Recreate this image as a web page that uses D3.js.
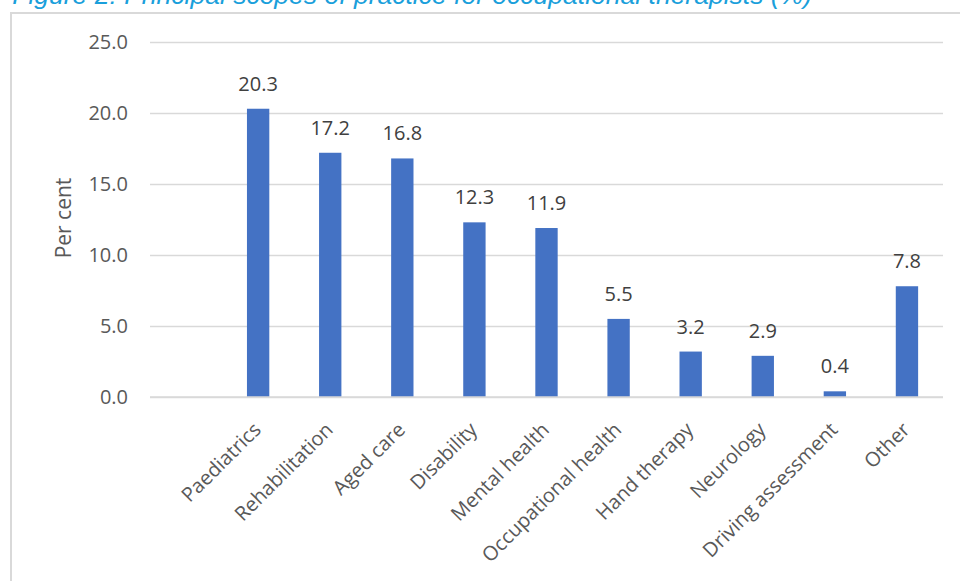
<!DOCTYPE html>
<html>
<head>
<meta charset="utf-8">
<script src="https://cdn.jsdelivr.net/npm/d3@7"></script>
<style>
  body { margin: 0; background: #fff; }
  svg { display: block; }
</style>
</head>
<body>
<svg id="chart" width="960" height="581"></svg>
<script>
/* categories - the first slot is empty in the source chart */
let categories = ["", "Paediatrics", "Rehabilitation", "Aged care", "Disability", "Mental health",
    "Occupational health", "Hand therapy", "Neurology", "Driving assessment", "Other"];
let values = [null, 20.3, 17.2, 16.8, 12.3, 11.9, 5.5, 3.2, 2.9, 0.4, 7.8];
let yTicks = [0, 5, 10, 15, 20, 25];

let titleText = "Figure 2: Principal scopes of practice for occupational therapists (%)";
let yTitle = "Per cent";

// plot area (window.top is taken, so no "top")
let mLeft = 150, mRight = 943, mTop = 42, mBottom = 397;

let svg = d3.select("#chart");

// frame
svg.append("rect")
    .attr("x", 11).attr("y", 13)
    .attr("width", 1000).attr("height", 700)
    .attr("fill", "#fff")
    .attr("stroke", "#d9d9d9")
    .attr("stroke-width", 2);

// title (cut off at the top in the original)
svg.append("text")
    .attr("x", 812).attr("y", 4)
    .attr("text-anchor", "end")
    .attr("font-family", "'Liberation Sans', Arial, sans-serif")
    .attr("font-style", "italic")
    .attr("font-size", 26.5)
    .attr("fill", "#1a9fdb")
    .text(titleText);

var rows = categories.map(function(c, i) { return { cat: c, val: values[i] }; });

var x = d3.scaleBand()
    .domain(categories)
    .range([mLeft, mRight])
    .paddingInner(0.69)
    .paddingOuter(0.345);

var y = d3.scaleLinear()
    .domain([0, 25])
    .range([mBottom, mTop]);

// gridlines + tick labels
var yAxis = d3.axisLeft(y)
    .tickValues(yTicks)
    .tickSize(-(mRight - mLeft))
    .tickPadding(22)
    .tickFormat(d3.format(".1f"));

var gy = svg.append("g")
    .attr("transform", "translate(" + mLeft + ",0)")
    .call(yAxis);
gy.select(".domain").remove();
gy.selectAll(".tick line")
    .attr("stroke", "#d9d9d9")
    .attr("stroke-width", 1.5);
gy.selectAll(".tick text")
    .attr("font-family", "'Open Sans', sans-serif")
    .attr("font-size", 20)
    .attr("fill", "#595959");

// y axis title
svg.append("text")
    .attr("transform", "translate(71,218) rotate(-90)")
    .attr("text-anchor", "middle")
    .attr("font-family", "'Open Sans', sans-serif")
    .attr("font-size", 21)
    .attr("fill", "#595959")
    .text(yTitle);

// bars
var withVal = rows.filter(function(d) { return d.val != null; });

svg.append("g")
    .selectAll("rect")
      .data(withVal)
    .enter().append("rect")
      .attr("x", function(d) { return x(d.cat); })
      .attr("y", function(d) { return y(d.val); })
      .attr("width", x.bandwidth())
      .attr("height", function(d) { return y(0) - y(d.val); })
      .attr("fill", "#4472c4");

// value labels
svg.append("g")
    .selectAll("text")
      .data(withVal)
    .enter().append("text")
      .attr("x", function(d) { return x(d.cat) + x.bandwidth() / 2; })
      .attr("y", function(d) { return y(d.val) - 18; })
      .attr("text-anchor", "middle")
      .attr("font-family", "'Open Sans', sans-serif")
      .attr("font-size", 20)
      .attr("fill", "#404040")
      .text(function(d) { return d3.format(".1f")(d.val); });

// x axis line
svg.append("line")
    .attr("x1", mLeft).attr("x2", mRight)
    .attr("y1", y(0)).attr("y2", y(0))
    .attr("stroke", "#d9d9d9")
    .attr("stroke-width", 1.5);

// category labels, rotated
svg.append("g")
    .selectAll("text")
      .data(rows.filter(function(d) { return d.cat !== ""; }))
    .enter().append("text")
      .attr("transform", function(d) {
          var cx = x(d.cat) + x.bandwidth() / 2 + 4;
          return "translate(" + cx + ",431) rotate(-45)";
      })
      .attr("text-anchor", "end")
      .attr("font-family", "'Open Sans', sans-serif")
      .attr("font-size", 20)
      .attr("fill", "#595959")
      .text(function(d) { return d.cat; });
</script>
</body>
</html>
